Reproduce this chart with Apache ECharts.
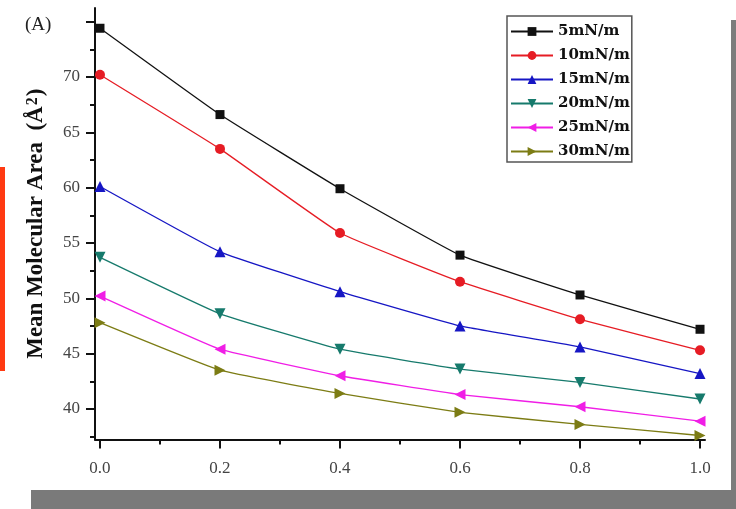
<!DOCTYPE html>
<html>
<head>
<meta charset="utf-8">
<script src="https://cdn.jsdelivr.net/npm/echarts@6/dist/echarts.min.js"></script>
<style>html,body{margin:0;padding:0;background:#fff;}#c{width:736px;height:509px;}</style>
</head>
<body>
<div id="c"></div>
<script>
const xValues = [0, 0.2, 0.4, 0.6, 0.8, 1.0];
const seriesNames = ['5mN/m', '10mN/m', '15mN/m', '20mN/m', '25mN/m', '30mN/m'];
const s5  = [74.4, 66.6, 59.9, 53.9, 50.3, 47.2];
const s10 = [70.2, 63.5, 55.9, 51.5, 48.1, 45.3];
const s15 = [60.1, 54.2, 50.6, 47.5, 45.6, 43.2];
const s20 = [53.7, 48.6, 45.4, 43.6, 42.4, 40.9];
const s25 = [50.2, 45.4, 43.0, 41.3, 40.2, 38.9];
const s30 = [47.8, 43.5, 41.4, 39.7, 38.6, 37.6];
const xMajorTicks = [0, 0.2, 0.4, 0.6, 0.8, 1.0];
const xMinorTicks = [0.1, 0.3, 0.5, 0.7, 0.9];
const yMajorTicks = [40, 45, 50, 55, 60, 65, 70, 75];
const yLabelTicks = [40, 45, 50, 55, 60, 65, 70];
const yMinorTicks = [37.5, 42.5, 47.5, 52.5, 57.5, 62.5, 67.5, 72.5];

const allSeries = [s5, s10, s15, s20, s25, s30];
const colors = ['#111111', '#e61c24', '#1616c4', '#167a6c', '#f01ee6', '#7c7c14'];
const symbols = ['rect', 'circle', 'triangle', 'triangle', 'triangle', 'triangle'];
const rotates = [0, 0, 0, 180, 90, -90];
const sizes = [9, 10, 11, 11, 11, 11];

const X_MIN = -0.0083, X_MAX = 1.0083, Y_MIN = 37.24, Y_MAX = 76.23;
const labelFont = {fontFamily: 'Liberation Serif', fontSize: 17, color: '#444'};

const chart = echarts.init(document.getElementById('c'), null, {renderer: 'canvas'});
chart.setOption({
  animation: false,
  backgroundColor: '#ffffff',
  grid: {left: 95, right: 31, top: 8, bottom: 69.5, containLabel: false},
  xAxis: [
    {type: 'value', min: X_MIN, max: X_MAX, position: 'bottom',
     axisLine: {show: true, onZero: false, lineStyle: {color: '#111', width: 2}},
     axisTick: {show: true, inside: false, length: 9, customValues: xMajorTicks, lineStyle: {color: '#111', width: 2}},
     axisLabel: Object.assign({show: true, margin: 21, customValues: xMajorTicks, formatter: v => v.toFixed(1)}, labelFont),
     splitLine: {show: false}},
    {type: 'value', min: X_MIN, max: X_MAX, position: 'bottom',
     axisLine: {show: false, onZero: false},
     axisTick: {show: true, inside: false, length: 5, customValues: xMinorTicks, lineStyle: {color: '#111', width: 2}},
     axisLabel: {show: false},
     splitLine: {show: false}}
  ],
  yAxis: [
    {type: 'value', min: Y_MIN, max: Y_MAX, position: 'left',
     name: 'Mean Molecular Area  (Å{sup|2})', nameLocation: 'middle', nameGap: 47, nameRotate: 90,
     nameTextStyle: {fontFamily: 'Liberation Serif', fontWeight: 'bold', fontSize: 23, color: '#111',
       rich: {sup: {fontFamily: 'Liberation Serif', fontWeight: 'bold', fontSize: 16, color: '#111', verticalAlign: 'top', lineHeight: 16, padding: [0, 1, 0, 1]}}},
     axisLine: {show: true, onZero: false, lineStyle: {color: '#111', width: 2}},
     axisTick: {show: true, inside: false, length: 9, customValues: yMajorTicks, lineStyle: {color: '#111', width: 2}},
     axisLabel: Object.assign({show: true, margin: 15, customValues: yLabelTicks, formatter: v => String(v)}, labelFont),
     splitLine: {show: false}},
    {type: 'value', min: Y_MIN, max: Y_MAX, position: 'left',
     axisLine: {show: false, onZero: false},
     axisTick: {show: true, inside: false, length: 5, customValues: yMinorTicks, lineStyle: {color: '#111', width: 2}},
     axisLabel: {show: false},
     splitLine: {show: false}}
  ],
  legend: {
    left: 507, top: 16, orient: 'vertical',
    padding: [8, 2, 3, 3],
    itemWidth: 42, itemHeight: 11, itemGap: 9,
    borderColor: '#555', borderWidth: 1.5, backgroundColor: '#fff',
    textStyle: {fontFamily: 'DejaVu Serif', fontWeight: 'bold', fontSize: 15, color: '#111'},
    data: seriesNames
  },
  graphic: [
    {type: 'text', left: 25, top: 16, style: {text: '(A)', font: '19px "Liberation Serif"', fill: '#222'}},
    {type: 'rect', shape: {x: 0, y: 167, width: 5, height: 204}, style: {fill: '#ff3a12'}},
    {type: 'rect', shape: {x: 731, y: 20, width: 5, height: 470}, style: {fill: '#7c7c7c'}},
    {type: 'rect', shape: {x: 31, y: 490, width: 705, height: 19}, style: {fill: '#7a7a7a'}}
  ],
  series: allSeries.map((vals, i) => ({
    name: seriesNames[i],
    type: 'line',
    xAxisIndex: 0, yAxisIndex: 0,
    data: xValues.map((x, j) => [x, vals[j]]),
    smooth: 0.1,
    clip: false,
    symbol: symbols[i],
    symbolRotate: rotates[i],
    symbolSize: sizes[i],
    showAllSymbol: true,
    lineStyle: {color: colors[i], width: 1.3},
    itemStyle: {color: colors[i]}
  }))
});
</script>
</body>
</html>
